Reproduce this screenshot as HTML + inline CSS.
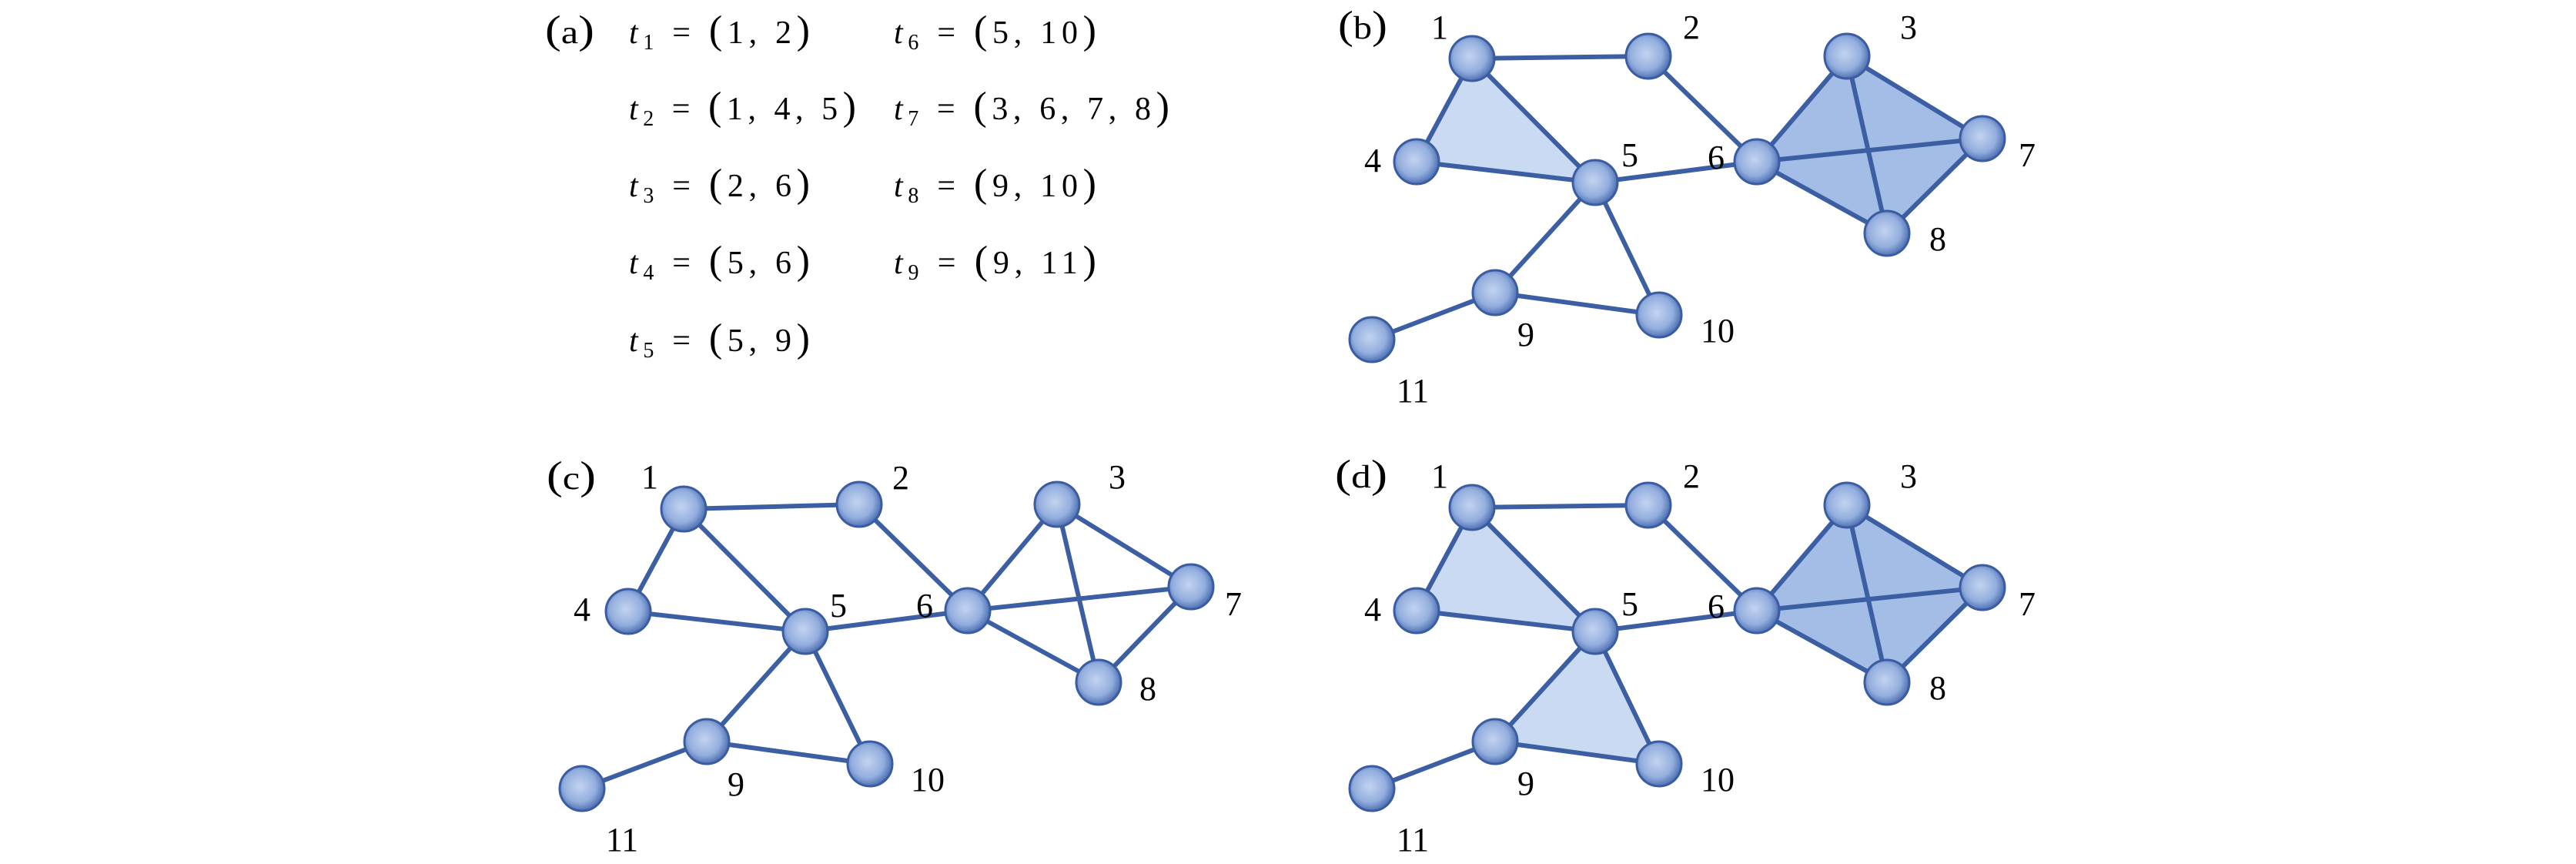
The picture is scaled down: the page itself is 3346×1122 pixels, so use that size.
<!DOCTYPE html>
<html><head><meta charset="utf-8"><style>
html,body{margin:0;padding:0;background:#fff;}
svg{display:block;}
text{font-family:"Liberation Serif",serif;fill:#000;}
.lb{font-size:44px;}
.m{font-size:42px;}
.s{font-size:28px;}
.p{font-size:52px;}
</style></head><body>
<svg width="3346" height="1122" viewBox="0 0 3346 1122" xmlns="http://www.w3.org/2000/svg">
<defs>
<radialGradient id="g" cx="0.45" cy="0.45" r="0.6">
<stop offset="0" stop-color="#c3d4f0"/>
<stop offset="0.6" stop-color="#93aede"/>
<stop offset="1" stop-color="#3e61a8"/>
</radialGradient>
<g id="nd"><circle r="29" fill="url(#g)" stroke="#3a5ca3" stroke-width="3"/></g>
</defs>

<!-- (a) -->
<g>
<text x="708" y="56" class="m" textLength="64" lengthAdjust="spacingAndGlyphs"><tspan class="p">(</tspan>a<tspan class="p">)</tspan></text>
<text x="817" y="56" class="m" textLength="235" lengthAdjust="spacing"><tspan font-style="italic">t</tspan><tspan class="s" dy="8">1</tspan><tspan dy="-8"> = </tspan><tspan class="p">(</tspan>1, 2<tspan class="p">)</tspan></text>
<text x="1161" y="56" class="m" textLength="263" lengthAdjust="spacing"><tspan font-style="italic">t</tspan><tspan class="s" dy="8">6</tspan><tspan dy="-8"> = </tspan><tspan class="p">(</tspan>5, 10<tspan class="p">)</tspan></text>

<text x="817" y="155" class="m" textLength="295" lengthAdjust="spacing"><tspan font-style="italic">t</tspan><tspan class="s" dy="8">2</tspan><tspan dy="-8"> = </tspan><tspan class="p">(</tspan>1, 4, 5<tspan class="p">)</tspan></text>
<text x="1161" y="155" class="m" textLength="358" lengthAdjust="spacing"><tspan font-style="italic">t</tspan><tspan class="s" dy="8">7</tspan><tspan dy="-8"> = </tspan><tspan class="p">(</tspan>3, 6, 7, 8<tspan class="p">)</tspan></text>

<text x="817" y="255" class="m" textLength="235" lengthAdjust="spacing"><tspan font-style="italic">t</tspan><tspan class="s" dy="8">3</tspan><tspan dy="-8"> = </tspan><tspan class="p">(</tspan>2, 6<tspan class="p">)</tspan></text>
<text x="1161" y="255" class="m" textLength="263" lengthAdjust="spacing"><tspan font-style="italic">t</tspan><tspan class="s" dy="8">8</tspan><tspan dy="-8"> = </tspan><tspan class="p">(</tspan>9, 10<tspan class="p">)</tspan></text>

<text x="817" y="355" class="m" textLength="235" lengthAdjust="spacing"><tspan font-style="italic">t</tspan><tspan class="s" dy="8">4</tspan><tspan dy="-8"> = </tspan><tspan class="p">(</tspan>5, 6<tspan class="p">)</tspan></text>
<text x="1161" y="355" class="m" textLength="263" lengthAdjust="spacing"><tspan font-style="italic">t</tspan><tspan class="s" dy="8">9</tspan><tspan dy="-8"> = </tspan><tspan class="p">(</tspan>9, 11<tspan class="p">)</tspan></text>

<text x="817" y="456" class="m" textLength="235" lengthAdjust="spacing"><tspan font-style="italic">t</tspan><tspan class="s" dy="8">5</tspan><tspan dy="-8"> = </tspan><tspan class="p">(</tspan>5, 9<tspan class="p">)</tspan></text>
</g>

<!-- (b) -->
<g id="gb">
<polygon points="1912,76 1840,210 2072,237" fill="#cadaf3"/>
<polygon points="2399,73 2575,180 2451,303 2282,210" fill="#a4bde7"/>
<g stroke="#3c5fa4" stroke-width="6" fill="none" stroke-linecap="round">
<line x1="1912" y1="76" x2="2141" y2="73"/>
<line x1="1912" y1="76" x2="1840" y2="210"/>
<line x1="1912" y1="76" x2="2072" y2="237"/>
<line x1="1840" y1="210" x2="2072" y2="237"/>
<line x1="2141" y1="73" x2="2282" y2="210"/>
<line x1="2072" y1="237" x2="2282" y2="210"/>
<line x1="2072" y1="237" x2="1942" y2="380"/>
<line x1="2072" y1="237" x2="2155" y2="409"/>
<line x1="1942" y1="380" x2="2155" y2="409"/>
<line x1="1942" y1="380" x2="1782" y2="441"/>
<line x1="2399" y1="73" x2="2282" y2="210"/>
<line x1="2399" y1="73" x2="2575" y2="180"/>
<line x1="2399" y1="73" x2="2451" y2="303"/>
<line x1="2282" y1="210" x2="2575" y2="180"/>
<line x1="2282" y1="210" x2="2451" y2="303"/>
<line x1="2575" y1="180" x2="2451" y2="303"/>
</g>
<use href="#nd" x="1912" y="76"/><use href="#nd" x="2141" y="73"/><use href="#nd" x="2399" y="73"/>
<use href="#nd" x="1840" y="210"/><use href="#nd" x="2072" y="237"/><use href="#nd" x="2282" y="210"/>
<use href="#nd" x="2575" y="180"/><use href="#nd" x="2451" y="303"/><use href="#nd" x="1942" y="380"/>
<use href="#nd" x="2155" y="409"/><use href="#nd" x="1782" y="441"/>
<g class="lb" text-anchor="middle">
<text x="1870" y="50">1</text><text x="2197" y="50">2</text><text x="2479" y="50">3</text>
<text x="1783" y="223">4</text><text x="2117" y="216">5</text><text x="2229" y="219">6</text>
<text x="2633" y="216">7</text><text x="2517" y="325">8</text><text x="1982" y="449">9</text>
<text x="2231" y="444">10</text><text x="1835" y="522">11</text>
</g>
</g>
<text x="1738" y="50" class="m" textLength="64" lengthAdjust="spacingAndGlyphs"><tspan class="p">(</tspan>b<tspan class="p">)</tspan></text>

<!-- (d) -->
<g transform="translate(0,583)">
<polygon points="1912,76 1840,210 2072,237" fill="#cadaf3"/>
<polygon points="2072,237 1942,380 2155,409" fill="#cadaf3"/>
<polygon points="2399,73 2575,180 2451,303 2282,210" fill="#a4bde7"/>
<g stroke="#3c5fa4" stroke-width="6" fill="none" stroke-linecap="round">
<line x1="1912" y1="76" x2="2141" y2="73"/>
<line x1="1912" y1="76" x2="1840" y2="210"/>
<line x1="1912" y1="76" x2="2072" y2="237"/>
<line x1="1840" y1="210" x2="2072" y2="237"/>
<line x1="2141" y1="73" x2="2282" y2="210"/>
<line x1="2072" y1="237" x2="2282" y2="210"/>
<line x1="2072" y1="237" x2="1942" y2="380"/>
<line x1="2072" y1="237" x2="2155" y2="409"/>
<line x1="1942" y1="380" x2="2155" y2="409"/>
<line x1="1942" y1="380" x2="1782" y2="441"/>
<line x1="2399" y1="73" x2="2282" y2="210"/>
<line x1="2399" y1="73" x2="2575" y2="180"/>
<line x1="2399" y1="73" x2="2451" y2="303"/>
<line x1="2282" y1="210" x2="2575" y2="180"/>
<line x1="2282" y1="210" x2="2451" y2="303"/>
<line x1="2575" y1="180" x2="2451" y2="303"/>
</g>
<use href="#nd" x="1912" y="76"/><use href="#nd" x="2141" y="73"/><use href="#nd" x="2399" y="73"/>
<use href="#nd" x="1840" y="210"/><use href="#nd" x="2072" y="237"/><use href="#nd" x="2282" y="210"/>
<use href="#nd" x="2575" y="180"/><use href="#nd" x="2451" y="303"/><use href="#nd" x="1942" y="380"/>
<use href="#nd" x="2155" y="409"/><use href="#nd" x="1782" y="441"/>
<g class="lb" text-anchor="middle">
<text x="1870" y="50">1</text><text x="2197" y="50">2</text><text x="2479" y="50">3</text>
<text x="1783" y="223">4</text><text x="2117" y="216">5</text><text x="2229" y="219">6</text>
<text x="2633" y="216">7</text><text x="2517" y="325">8</text><text x="1982" y="449">9</text>
<text x="2231" y="444">10</text><text x="1835" y="522">11</text>
</g>
<text x="1734" y="50" class="m" textLength="68" lengthAdjust="spacingAndGlyphs"><tspan class="p">(</tspan>d<tspan class="p">)</tspan></text>
</g>

<!-- (c) -->
<g>
<g stroke="#3c5fa4" stroke-width="6" fill="none" stroke-linecap="round">
<line x1="888" y1="661" x2="1116" y2="655"/>
<line x1="888" y1="661" x2="816" y2="794"/>
<line x1="888" y1="661" x2="1046" y2="820"/>
<line x1="816" y1="794" x2="1046" y2="820"/>
<line x1="1116" y1="655" x2="1257" y2="793"/>
<line x1="1046" y1="820" x2="1257" y2="793"/>
<line x1="1046" y1="820" x2="918" y2="963"/>
<line x1="1046" y1="820" x2="1130" y2="992"/>
<line x1="918" y1="963" x2="1130" y2="992"/>
<line x1="918" y1="963" x2="756" y2="1024"/>
<line x1="1373" y1="655" x2="1257" y2="793"/>
<line x1="1373" y1="655" x2="1547" y2="762"/>
<line x1="1373" y1="655" x2="1427" y2="886"/>
<line x1="1257" y1="793" x2="1547" y2="762"/>
<line x1="1257" y1="793" x2="1427" y2="886"/>
<line x1="1547" y1="762" x2="1427" y2="886"/>
</g>
<use href="#nd" x="888" y="661"/><use href="#nd" x="1116" y="655"/><use href="#nd" x="1373" y="655"/>
<use href="#nd" x="816" y="794"/><use href="#nd" x="1046" y="820"/><use href="#nd" x="1257" y="793"/>
<use href="#nd" x="1547" y="762"/><use href="#nd" x="1427" y="886"/><use href="#nd" x="918" y="963"/>
<use href="#nd" x="1130" y="992"/><use href="#nd" x="756" y="1024"/>
<g class="lb" text-anchor="middle">
<text x="844" y="634">1</text><text x="1170" y="635">2</text><text x="1451" y="634">3</text>
<text x="756" y="806">4</text><text x="1089" y="801">5</text><text x="1201" y="801">6</text>
<text x="1602" y="799">7</text><text x="1491" y="909">8</text><text x="956" y="1033">9</text>
<text x="1205" y="1027">10</text><text x="808" y="1105">11</text>
</g>
<text x="710" y="635" class="m" textLength="64" lengthAdjust="spacingAndGlyphs"><tspan class="p">(</tspan>c<tspan class="p">)</tspan></text>
</g>
</svg>
</body></html>
